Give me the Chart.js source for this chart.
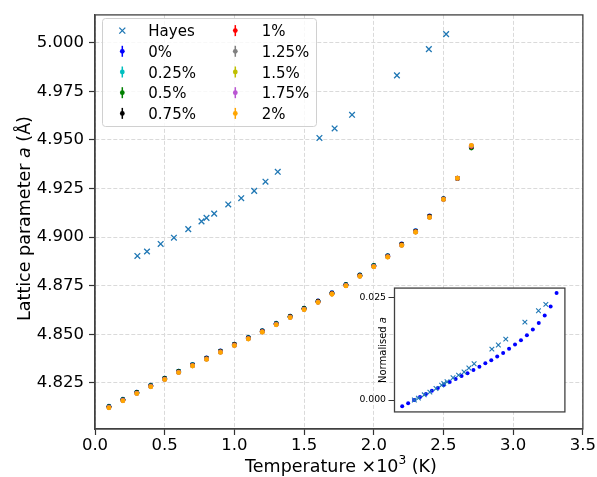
<!DOCTYPE html>
<html><head><meta charset="utf-8">
<script src="https://cdn.jsdelivr.net/npm/chart.js@4"></script>
<style>
html,body{margin:0;padding:0;background:#fff;}
#wrap{position:relative;width:597px;height:477px;overflow:hidden;}
#main{position:absolute;left:0;top:0;}
#inset{position:absolute;left:330px;top:280px;}
</style></head><body>
<div id="wrap"><canvas id="main" width="597" height="477"></canvas><canvas id="inset" width="240" height="140"></canvas></div>
<script>
// ---------------- data ----------------
const temperatures = [0.1,0.2,0.3,0.4,0.5,0.6,0.7,0.8,0.9,1.0,1.1,1.2,1.3,1.4,1.5,1.6,1.7,1.8,1.9,2.0,2.1,2.2,2.3,2.4,2.5,2.6,2.7];

const hayesT = [0.304,0.373,0.471,0.566,0.669,0.764,0.800,0.855,0.956,1.049,1.142,1.223,1.311,1.610,1.719,1.844,2.166,2.395,2.519];
const hayesA = [4.8903,4.8926,4.8965,4.8997,4.9041,4.9081,4.9099,4.9121,4.9168,4.9200,4.9238,4.9285,4.9336,4.9510,4.9559,4.9629,4.9832,4.9967,5.0044];

const lattice0   = [4.8130,4.8166,4.8203,4.8238,4.8275,4.8311,4.8345,4.8379,4.8415,4.8450,4.8484,4.8519,4.8557,4.8594,4.8635,4.8672,4.8714,4.8757,4.8806,4.8855,4.8905,4.8965,4.9033,4.9109,4.9198,4.9303,4.9462];
const lattice025 = [4.8129,4.8165,4.8202,4.8237,4.8274,4.8310,4.8344,4.8378,4.8414,4.8449,4.8483,4.8518,4.8556,4.8593,4.8634,4.8671,4.8713,4.8756,4.8805,4.8854,4.8904,4.8964,4.9032,4.9108,4.9197,4.9302,4.9460];
const lattice05  = [4.8128,4.8164,4.8201,4.8236,4.8273,4.8309,4.8343,4.8377,4.8413,4.8448,4.8482,4.8517,4.8555,4.8592,4.8633,4.8670,4.8712,4.8755,4.8804,4.8853,4.8903,4.8963,4.9031,4.9107,4.9196,4.9301,4.9458];
const lattice075 = [4.8127,4.8163,4.8200,4.8235,4.8272,4.8308,4.8342,4.8376,4.8412,4.8447,4.8481,4.8516,4.8554,4.8591,4.8632,4.8669,4.8711,4.8754,4.8803,4.8852,4.8902,4.8962,4.9030,4.9106,4.9196,4.9302,4.9464];
const lattice1   = [4.8125,4.8161,4.8198,4.8233,4.8270,4.8306,4.8340,4.8374,4.8410,4.8445,4.8479,4.8514,4.8552,4.8589,4.8630,4.8667,4.8709,4.8752,4.8801,4.8850,4.8900,4.8960,4.9028,4.9104,4.9195,4.9302,4.9466];
const lattice125 = [4.8124,4.8160,4.8197,4.8232,4.8269,4.8305,4.8339,4.8373,4.8409,4.8444,4.8478,4.8513,4.8551,4.8588,4.8629,4.8666,4.8708,4.8751,4.8800,4.8849,4.8899,4.8959,4.9027,4.9103,4.9195,4.9303,4.9468];
const lattice15  = [4.8123,4.8159,4.8196,4.8231,4.8268,4.8304,4.8338,4.8372,4.8408,4.8443,4.8477,4.8512,4.8550,4.8587,4.8628,4.8665,4.8707,4.8750,4.8799,4.8848,4.8898,4.8958,4.9026,4.9102,4.9194,4.9303,4.9469];
const lattice175 = [4.8123,4.8159,4.8196,4.8231,4.8268,4.8304,4.8338,4.8372,4.8408,4.8443,4.8477,4.8512,4.8550,4.8587,4.8628,4.8665,4.8707,4.8750,4.8799,4.8848,4.8898,4.8958,4.9026,4.9102,4.9194,4.9303,4.9470];
const lattice2   = [4.8122,4.8158,4.8195,4.8230,4.8267,4.8303,4.8337,4.8371,4.8407,4.8442,4.8476,4.8511,4.8549,4.8586,4.8627,4.8664,4.8706,4.8749,4.8798,4.8847,4.8897,4.8957,4.9025,4.9101,4.9194,4.9303,4.9472];
const latticeErr = [0.0005,0.0005,0.0005,0.0005,0.0005,0.0005,0.0005,0.0005,0.0005,0.0005,0.0005,0.0005,0.0005,0.0005,0.0005,0.0005,0.0005,0.0005,0.0005,0.0005,0.0005,0.0005,0.0005,0.0005,0.0005,0.0006,0.0007];

const seriesLabels = ['0%','0.25%','0.5%','0.75%','1%','1.25%','1.5%','1.75%','2%'];
const seriesValues = [lattice0,lattice025,lattice05,lattice075,lattice1,lattice125,lattice15,lattice175,lattice2];
const seriesColors = ['#0000ff','#00bfbf','#008000','#000000','#ff0000','#808080','#bfbf00','#ba55d3','#ffa500'];

const xTicks = [0.0,0.5,1.0,1.5,2.0,2.5,3.0,3.5];
const yTicks = [4.825,4.850,4.875,4.900,4.925,4.950,4.975,5.000];
const insetYTicks = [0.000,0.025];
const refTemperature = 0.3;

// ---------------- helpers ----------------
const FONT = '"DejaVu Sans", "Liberation Sans", sans-serif';
const HAYES_COLOR = '#1f77b4';

const datasets = [];
datasets.push({
  label: 'Hayes',
  data: hayesT.map((t, i) => ({x: t, y: hayesA[i]})),
  pointStyle: 'crossRot', pointRadius: 4, borderColor: HAYES_COLOR, backgroundColor: HAYES_COLOR,
  pointBorderWidth: 1.3, showLine: false, order: 20
});
seriesValues.forEach((vals, k) => {
  datasets.push({
    label: seriesLabels[k],
    data: temperatures.map((t, i) => ({x: t, y: vals[i]})),
    errors: latticeErr,
    pointStyle: 'circle', pointRadius: 2.4, borderColor: seriesColors[k], backgroundColor: seriesColors[k],
    pointBorderWidth: 0, showLine: false, order: 10 - k
  });
});

const errorBarPlugin = {
  id: 'errbars',
  beforeDatasetDraw(chart, args) {
    const ds = chart.data.datasets[args.index];
    if (!ds.errors) return;
    const ctx = chart.ctx, xs = chart.scales.x, ys = chart.scales.y;
    ctx.save();
    ctx.strokeStyle = ds.borderColor; ctx.lineWidth = 1.3;
    ds.data.forEach((p, i) => {
      const x = xs.getPixelForValue(p.x);
      ctx.beginPath();
      ctx.moveTo(x, ys.getPixelForValue(p.y - ds.errors[i]));
      ctx.lineTo(x, ys.getPixelForValue(p.y + ds.errors[i]));
      ctx.stroke();
    });
    ctx.restore();
  }
};

const framePlugin = {
  id: 'frame',
  afterDatasetsDraw(chart) {
    const {ctx, chartArea: a} = chart;
    ctx.save();
    ctx.strokeStyle = '#404040'; ctx.lineWidth = 1.3;
    ctx.strokeRect(a.left, a.top, a.right - a.left, a.bottom - a.top);
    ctx.restore();
  }
};

function drawParts(ctx, parts, cx, baseline) {
  let total = 0;
  parts.forEach(p => { ctx.font = p.font; p.w = ctx.measureText(p.t).width; total += p.w; });
  let x = cx - total / 2;
  parts.forEach(p => { ctx.font = p.font; ctx.fillText(p.t, x, baseline + (p.dy || 0)); x += p.w; });
}

const titlesPlugin = {
  id: 'titles',
  afterDraw(chart) {
    const {ctx, chartArea: a} = chart;
    ctx.save();
    ctx.fillStyle = '#000'; ctx.textBaseline = 'alphabetic'; ctx.textAlign = 'left';
    drawParts(ctx, [
      {t: 'Temperature \u00d710', font: '17.5px ' + FONT},
      {t: '3', font: '12.2px ' + FONT, dy: -7.5},
      {t: ' (K)', font: '17.5px ' + FONT}
    ], 341, 471.5);
    ctx.translate(29.5, 218.5);
    ctx.rotate(-Math.PI / 2);
    drawParts(ctx, [
      {t: 'Lattice parameter ', font: '17.5px ' + FONT},
      {t: 'a', font: 'italic 17.5px ' + FONT},
      {t: ' (\u00c5)', font: '17.5px ' + FONT}
    ], 0, 0);
    ctx.restore();
  }
};

const legendPlugin = {
  id: 'customLegend',
  afterDraw(chart) {
    const ctx = chart.ctx;
    const box = {x: 102.5, y: 18.5, w: 214, h: 108, r: 3};
    ctx.save();
    ctx.beginPath();
    ctx.moveTo(box.x + box.r, box.y);
    ctx.arcTo(box.x + box.w, box.y, box.x + box.w, box.y + box.h, box.r);
    ctx.arcTo(box.x + box.w, box.y + box.h, box.x, box.y + box.h, box.r);
    ctx.arcTo(box.x, box.y + box.h, box.x, box.y, box.r);
    ctx.arcTo(box.x, box.y, box.x + box.w, box.y, box.r);
    ctx.closePath();
    ctx.fillStyle = 'rgba(255,255,255,0.8)'; ctx.fill();
    ctx.strokeStyle = '#d0d0d0'; ctx.lineWidth = 1; ctx.stroke();
    const items = chart.data.datasets.map(d => d);
    const rowY = [30.6, 51.3, 72.0, 92.7, 113.4];
    ctx.font = '15px ' + FONT; ctx.textBaseline = 'alphabetic'; ctx.textAlign = 'left';
    items.forEach((ds, i) => {
      const col = i < 5 ? 0 : 1, row = i % 5;
      const mx = col === 0 ? 122.3 : 235.3, tx = col === 0 ? 148.3 : 261.7, cy = rowY[row];
      ctx.strokeStyle = ds.borderColor; ctx.fillStyle = ds.backgroundColor;
      if (ds.pointStyle === 'crossRot') {
        ctx.lineWidth = 1.3; ctx.beginPath();
        ctx.moveTo(mx - 3, cy - 3); ctx.lineTo(mx + 3, cy + 3);
        ctx.moveTo(mx - 3, cy + 3); ctx.lineTo(mx + 3, cy - 3); ctx.stroke();
      } else {
        ctx.lineWidth = 1.5; ctx.beginPath();
        ctx.moveTo(mx, cy - 5.5); ctx.lineTo(mx, cy + 5.5); ctx.stroke();
        ctx.beginPath(); ctx.arc(mx, cy, 2.4, 0, Math.PI * 2); ctx.fill();
      }
      ctx.fillStyle = '#000';
      ctx.fillText(ds.label, tx, cy + 5.5);
    });
    ctx.restore();
  }
};

const gridCommon = {color: '#dadada', lineWidth: 1, tickLength: 6, tickColor: '#333', tickWidth: 1.2};

new Chart(document.getElementById('main'), {
  type: 'scatter',
  data: {datasets},
  options: {
    responsive: false, animation: false, devicePixelRatio: 1,
    layout: {padding: {left: 0, top: 12, right: 13, bottom: 0}},
    plugins: {legend: {display: false}, tooltip: {enabled: false}},
    scales: {
      x: {
        type: 'linear', min: 0, max: 3.5,
        afterBuildTicks: s => { s.ticks = xTicks.map(v => ({value: v})); },
        afterFit: s => { s.height = 48; },
        ticks: {font: {family: FONT, size: 16.5}, color: '#000', padding: 1, maxRotation: 0, autoSkip: false, callback: v => Number(v).toFixed(1)},
        grid: gridCommon,
        border: {display: true, color: '#404040', width: 1.3, dash: [4, 2]}
      },
      y: {
        type: 'linear', min: 4.8013, max: 5.0143,
        afterBuildTicks: s => { s.ticks = yTicks.map(v => ({value: v})); },
        afterFit: s => { s.width = 95; },
        ticks: {font: {family: FONT, size: 16.5}, color: '#000', padding: 5, autoSkip: false, callback: v => Number(v).toFixed(3)},
        grid: gridCommon,
        border: {display: true, color: '#404040', width: 1.3, dash: [4, 2]}
      }
    }
  },
  plugins: [errorBarPlugin, framePlugin, titlesPlugin, legendPlugin]
});

// ---------------- inset ----------------
const refIdx = temperatures.indexOf(refTemperature);
const insetDots = temperatures.map((t, i) => ({x: t, y: (lattice0[i] - lattice0[refIdx]) / lattice0[refIdx]}));
const insetHayes = hayesT.map((t, i) => ({x: t, y: (hayesA[i] - hayesA[0]) / hayesA[0]}));

const insetBg = {
  id: 'insetBg',
  beforeDraw(chart) {
    const {ctx, chartArea: a} = chart;
    ctx.save(); ctx.fillStyle = '#fff';
    ctx.fillRect(a.left, a.top, a.right - a.left, a.bottom - a.top);
    ctx.restore();
  },
  afterDatasetsDraw(chart) {
    const {ctx, chartArea: a} = chart;
    ctx.save(); ctx.strokeStyle = '#404040'; ctx.lineWidth = 1.3;
    ctx.strokeRect(a.left, a.top, a.right - a.left, a.bottom - a.top);
    ctx.restore();
  },
  afterDraw(chart) {
    const {ctx, chartArea: a} = chart;
    ctx.save(); ctx.fillStyle = '#000'; ctx.textBaseline = 'alphabetic'; ctx.textAlign = 'left';
    ctx.translate(55.5, (a.top + a.bottom) / 2);
    ctx.rotate(-Math.PI / 2);
    drawParts(ctx, [
      {t: 'Normalised ', font: '10px ' + FONT},
      {t: 'a', font: 'italic 10px ' + FONT}
    ], 0, 0);
    ctx.restore();
  }
};

new Chart(document.getElementById('inset'), {
  type: 'scatter',
  data: {datasets: [
    {label: 'Hayes', data: insetHayes, pointStyle: 'crossRot', pointRadius: 3.3, borderColor: HAYES_COLOR, backgroundColor: HAYES_COLOR, pointBorderWidth: 1.1, order: 0},
    {label: '0%', data: insetDots, pointStyle: 'circle', pointRadius: 2, borderColor: '#0000ff', backgroundColor: '#0000ff', pointBorderWidth: 0, order: 1}
  ]},
  options: {
    responsive: false, animation: false, devicePixelRatio: 1,
    layout: {padding: {left: 0, top: 7.5, right: 4, bottom: 5}},
    plugins: {legend: {display: false}, tooltip: {enabled: false}},
    scales: {
      x: {type: 'linear', min: -0.03, max: 2.84, display: false},
      y: {
        type: 'linear', min: -0.0029, max: 0.0273,
        afterBuildTicks: s => { s.ticks = insetYTicks.map(v => ({value: v})); },
        afterFit: s => { s.width = 64.5; },
        ticks: {font: {family: FONT, size: 9.3}, color: '#000', padding: 2.5, autoSkip: false, callback: v => Number(v).toFixed(3)},
        grid: {drawOnChartArea: false, tickLength: 6, tickColor: '#333', tickWidth: 1},
        border: {display: false}
      }
    }
  },
  plugins: [insetBg]
});
</script>
</body></html>
